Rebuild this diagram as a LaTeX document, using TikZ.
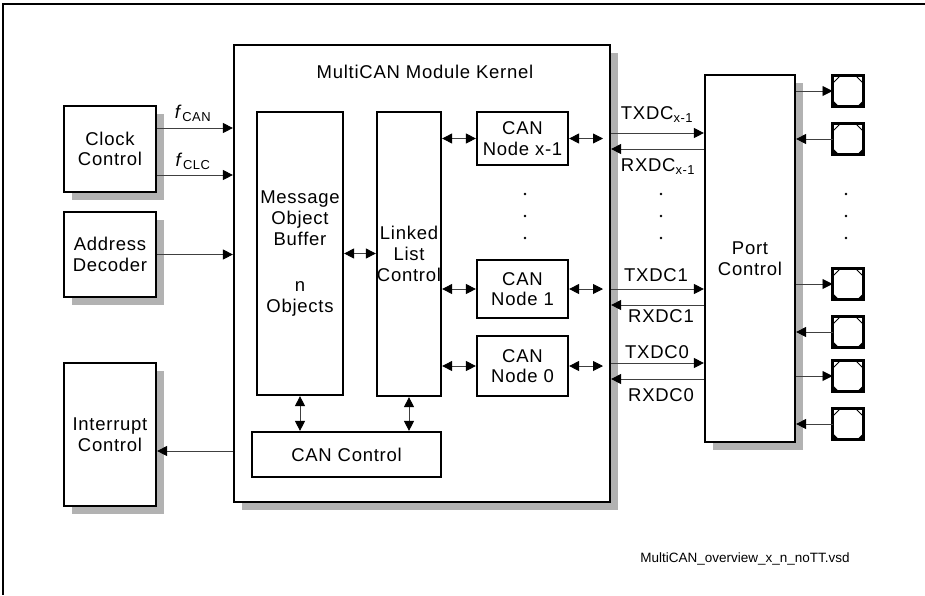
\documentclass[tikz,border=0pt]{standalone}
\usepackage{fontspec}
\setmainfont{Liberation Sans}[LetterSpace=4]
\newfontfamily\filefont{Liberation Sans}
\usetikzlibrary{arrows.meta, shadows}

\begin{document}
\begin{tikzpicture}[
  x=1pt, y=-1pt,
  every node/.style={font=\fontsize{18.5}{20.7}\selectfont, align=center},
  block/.style={
    draw,
    line width=2.2pt,
    fill=white,
    inner sep=0pt
  },
  shadowed/.style={
    block,
    general shadow={fill=black!30, shadow xshift=8pt, shadow yshift=-8pt}
  },
  pad/.style={
    draw,
    line width=2.2pt,
    fill=white,
    minimum size=31pt,
    inner sep=0pt,
    outer sep=0pt
  },
  corner/.style={line width=0.8pt},
  link/.style={draw=black!75, line width=0.9pt, -{Triangle[length=10pt,width=10pt,color=black]}},
  dlink/.style={draw=black!75, line width=0.9pt,
    {Triangle[length=10pt,width=10pt,color=black]}-{Triangle[length=10pt,width=10pt,color=black]}},
  sig/.style={inner sep=1pt}
]
\useasboundingbox (0,0) rectangle (925,595);

% frame
\draw[line width=1.2pt] (925,4) -- (3,4) -- (3,595);

% outer blocks
\node[shadowed, minimum width=376pt, minimum height=457pt] (kernel) at (422,273.5) {};
\node (title) at (425,72) {MultiCAN Module Kernel};
\node[shadowed, minimum width=92pt, minimum height=86pt] (clock) at (110,149) {Clock\\Control};
\node[shadowed, minimum width=92pt, minimum height=85pt] (addr) at (110,254.5) {Address\\Decoder};
\node[shadowed, minimum width=92pt, minimum height=143pt] (intr) at (110,434.5) {Interrupt\\Control};
\node[shadowed, minimum width=90pt, minimum height=367pt] (port) at (750,258.5) {Port\\Control};

% kernel contents
\node[block, minimum width=86pt, minimum height=283pt] (mob) at (300,253.5)
  {Message\\Object\\Buffer\\[5pt]\\n\\Objects};
\node[block, minimum width=64pt, minimum height=284pt] (llc) at (409,254) {Linked\\List\\Control};
\node[block, minimum width=189pt, minimum height=45pt] (canctl) at (346.5,454.5) {CAN Control};
\node[block, minimum width=91pt, minimum height=53pt] (nodeX) at (522.5,138.5) {CAN\\Node x-1};
\node[block, minimum width=91pt, minimum height=58pt] (node1) at (522.5,289) {CAN\\Node 1};
\node[block, minimum width=91pt, minimum height=60pt] (node0) at (522.5,366) {CAN\\Node 0};

% pins
\node[pad] (pad1) at (848,91) {};
\node[pad] (pad2) at (848,139) {};
\node[pad] (pad3) at (848,284) {};
\node[pad] (pad4) at (848,332) {};
\node[pad] (pad5) at (848,376) {};
\node[pad] (pad6) at (848,424) {};
\foreach \p in {pad1, pad2, pad3, pad4, pad5, pad6}{
  \draw[corner] ([xshift=8pt]\p.north west) -- ([yshift=-8pt]\p.north west);
  \draw[corner] ([xshift=-8pt]\p.north east) -- ([yshift=-8pt]\p.north east);
  \fill ([xshift=6.5pt]\p.south west) -- (\p.south west) -- ([yshift=6.5pt]\p.south west) -- cycle;
  \fill ([xshift=-6.5pt]\p.south east) -- (\p.south east) -- ([yshift=6.5pt]\p.south east) -- cycle;
}

% signal levels
\coordinate (fcanY) at (0,128);
\coordinate (fclcY) at (0,175);
\coordinate (irqY) at (0,451);
\coordinate (txXY) at (0,133);
\coordinate (rxXY) at (0,149);
\coordinate (tx1Y) at (0,289);
\coordinate (rx1Y) at (0,305);
\coordinate (tx0Y) at (0,363);
\coordinate (rx0Y) at (0,379);
\coordinate (kin) at (603,0);

% clock, address, interrupt
\draw[link] (clock.east |- fcanY) -- (kernel.west |- fcanY);
\draw[link] (clock.east |- fclcY) -- (kernel.west |- fclcY);
\draw[link] (addr.east) -- (kernel.west |- addr.east);
\draw[link] (kernel.west |- irqY) -- (intr.east |- irqY);
\node[sig] (fcan) at (193,113) {\textit{f}\textsubscript{CAN}};
\node[sig] (fclc) at (193,161) {\textit{f}\textsubscript{CLC}};

% inside the kernel
\draw[dlink] (mob.east) -- (llc.west |- mob.east);
\draw[dlink] (mob.south) -- (mob.south |- canctl.north);
\draw[dlink] (llc.south) -- (llc.south |- canctl.north);
\foreach \n in {nodeX, node1, node0}{
  \draw[dlink] (llc.east |- \n.west) -- (\n.west);
  \draw[dlink] (\n.east) -- (kin |- \n.east);
}

% kernel to port
\draw[link] (kernel.east |- txXY) -- (port.west |- txXY);
\draw[link] (port.west |- rxXY) -- (kernel.east |- rxXY);
\draw[link] (kernel.east |- tx1Y) -- (port.west |- tx1Y);
\draw[link] (port.west |- rx1Y) -- (kernel.east |- rx1Y);
\draw[link] (kernel.east |- tx0Y) -- (port.west |- tx0Y);
\draw[link] (port.west |- rx0Y) -- (kernel.east |- rx0Y);
\node[sig] (txX) at (657,115) {TXDC\textsubscript{x-1}};
\node[sig] (rxX) at (658,167) {RXDC\textsubscript{x-1}};
\node[sig] (tx1) at (656,275) {TXDC1};
\node[sig] (rx1) at (661,316) {RXDC1};
\node[sig] (tx0) at (657,352) {TXDC0};
\node[sig] (rx0) at (661,395) {RXDC0};

% port to pins
\foreach \p in {pad1, pad3, pad5}
  \draw[link] (port.east |- \p.west) -- (\p.west);
\foreach \p in {pad2, pad4, pad6}
  \draw[link] (\p.west) -- (port.east |- \p.west);

% dots
\foreach \x in {525, 661, 846}
  \foreach \y in {194, 216, 238}
    \fill (\x,\y) circle (1.3pt);

\node[font=\filefont\fontsize{13.5}{16}\selectfont] (file) at (745,559) {MultiCAN\_overview\_x\_n\_noTT.vsd};

\end{tikzpicture}
\end{document}
